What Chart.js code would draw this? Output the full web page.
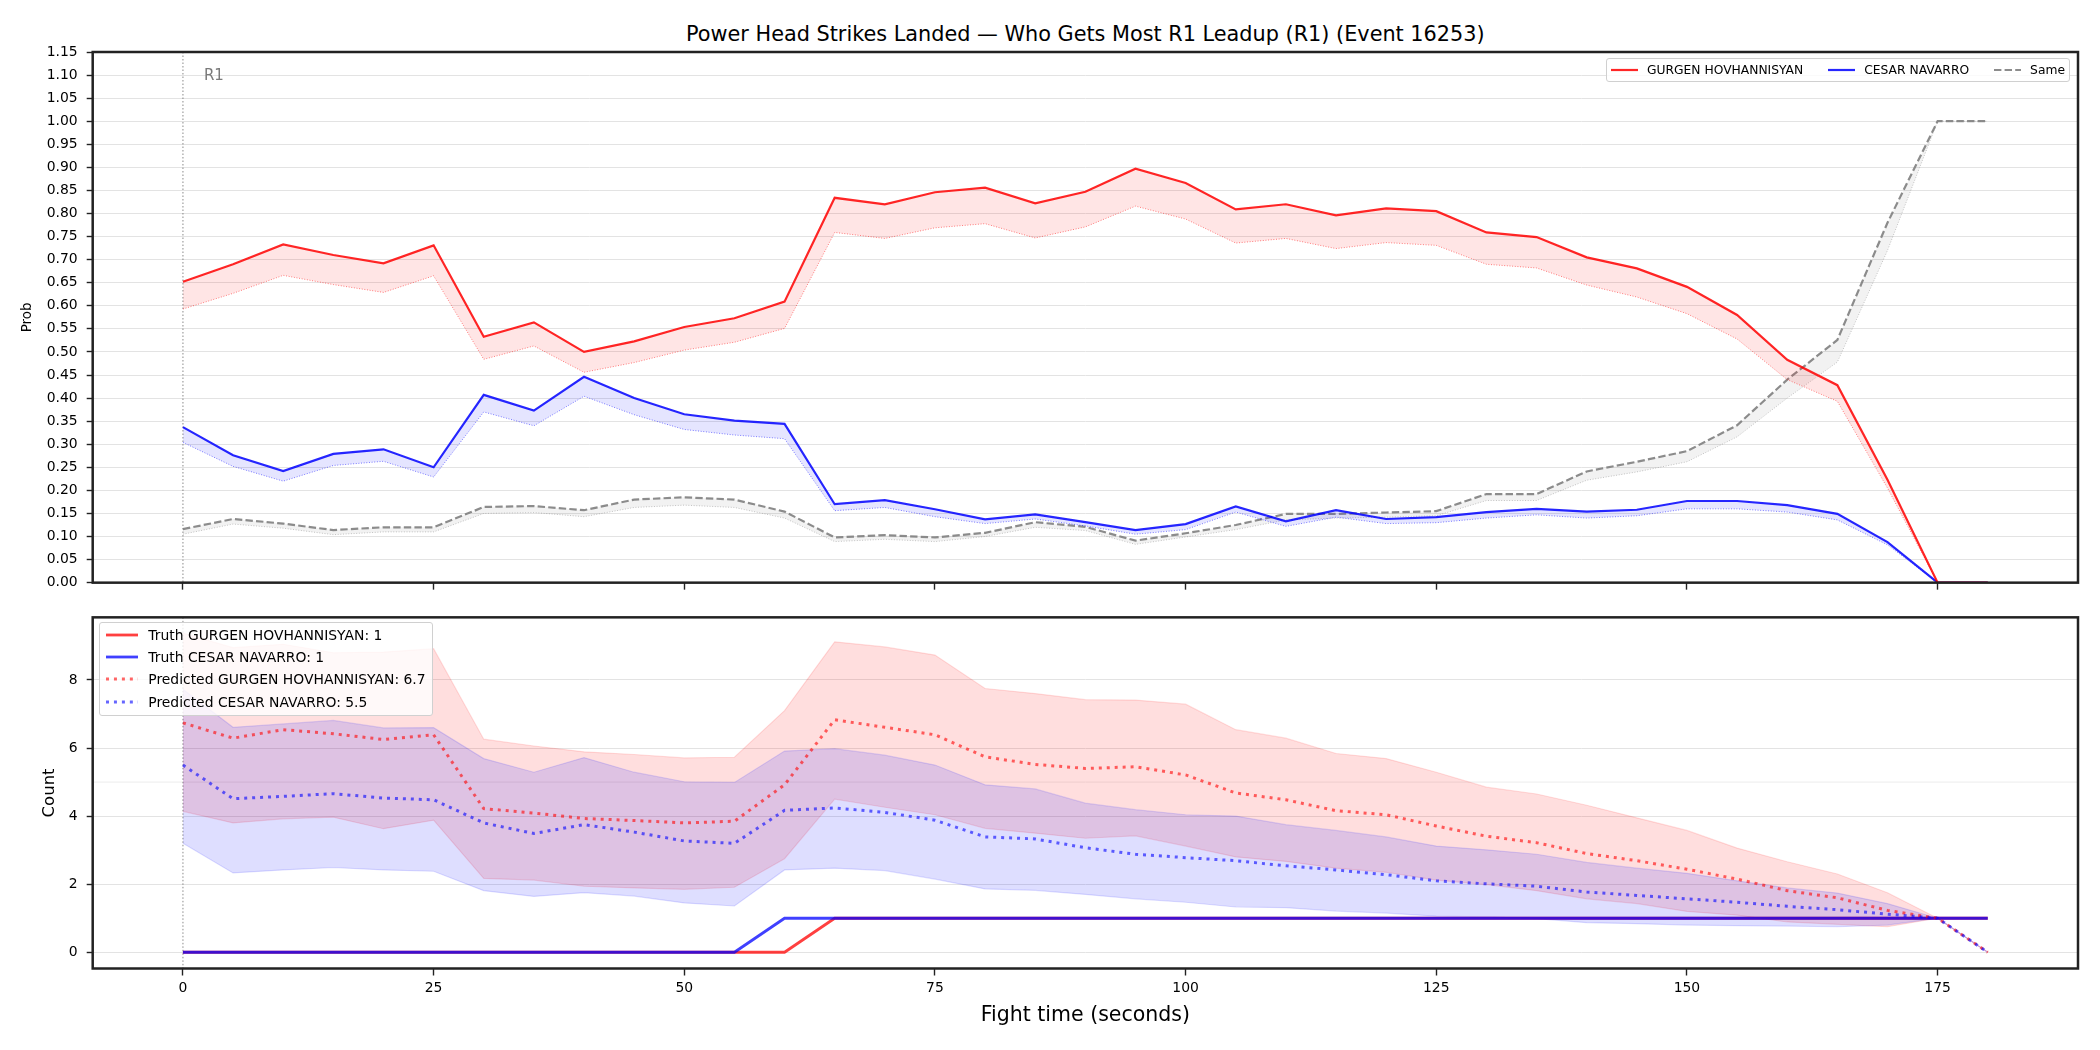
<!DOCTYPE html>
<html>
<head>
<meta charset="utf-8">
<script src="https://cdn.jsdelivr.net/npm/chart.js@4/dist/chart.umd.min.js"></script>
<style>
  html, body { margin:0; padding:0; background:#fff; }
  body { width:2100px; height:1050px; position:relative; overflow:hidden; font-family:"DejaVu Sans", sans-serif; }
  #w1 { position:absolute; left:0; top:0; width:2100px; height:600px; }
  #w2 { position:absolute; left:0; top:600px; width:2100px; height:450px; }
  #title { position:absolute; left:92.7px; width:1985.3px; top:20.5px; line-height:26px; text-align:center; font-size:20.8px; color:#000; white-space:nowrap; }
  .legend { position:absolute; background:rgba(255,255,255,0.8); border:1px solid #d0d0d0; border-radius:3px; box-sizing:border-box; color:#000; }
  #legTop { right:30px; top:57.5px; height:24px; display:flex; align-items:center; padding:0 4px 0 4px; font-size:12.3px; }
  #legTop .item { display:flex; align-items:center; margin-right:25px; white-space:nowrap; }
  #legTop .item:last-child { margin-right:0; }
  #legTop svg { margin-right:9px; }
  #legBot { left:99.3px; top:622px; padding:0.5px 6px 2px 5.7px; font-size:13.9px; }
  #legBot .row { display:flex; align-items:center; height:22.3px; white-space:nowrap; }
  #legBot svg { margin-right:10.3px; }
</style>
</head>
<body>
<div id="title"></div>
<div id="w1"><canvas id="c1" width="2100" height="600"></canvas></div>
<div id="w2"><canvas id="c2" width="2100" height="450"></canvas></div>
<div id="legTop" class="legend"></div>
<div id="legBot" class="legend"></div>
<script>
// ---------------- DATA ----------------
const chartTitle = 'Power Head Strikes Landed — Who Gets Most R1 Leadup (R1) (Event 16253)';
const times = [0,5,10,15,20,25,30,35,40,45,50,55,60,65,70,75,80,85,90,95,100,105,110,115,120,125,130,135,140,145,150,155,160,165,170,175,180];
const xTickValues = [0,25,50,75,100,125,150,175];
const probTickValues = [0,0.05,0.10,0.15,0.20,0.25,0.30,0.35,0.40,0.45,0.50,0.55,0.60,0.65,0.70,0.75,0.80,0.85,0.90,0.95,1.00,1.05,1.10,1.15];
const countTickValues = [0,2,4,6,8];
const roundStartTimes = [0];
const roundLabels = ['R1'];
const countRefLines = [5];
const fighterNames = ['GURGEN HOVHANNISYAN', 'CESAR NAVARRO'];
const sameLabel = 'Same';
const truthTotals = [1, 1];
const predictedTotals = [6.7, 5.5];

// Top panel: probabilities (main line and lower dotted bound)
const gurgenProb    = [0.652,0.690,0.733,0.710,0.692,0.731,0.533,0.564,0.500,0.523,0.554,0.573,0.609,0.834,0.820,0.846,0.856,0.822,0.847,0.897,0.866,0.809,0.820,0.796,0.811,0.805,0.759,0.749,0.705,0.681,0.641,0.580,0.483,0.428,0.223,0,0];
const gurgenProbLow = [0.593,0.627,0.666,0.646,0.629,0.665,0.484,0.513,0.456,0.477,0.504,0.521,0.551,0.759,0.746,0.769,0.778,0.747,0.771,0.816,0.788,0.736,0.746,0.724,0.737,0.731,0.690,0.682,0.645,0.619,0.583,0.528,0.440,0.393,0.205,0,0];
const cesarProb     = [0.337,0.276,0.242,0.279,0.289,0.250,0.407,0.373,0.446,0.400,0.365,0.351,0.344,0.170,0.179,0.159,0.137,0.148,0.131,0.114,0.127,0.165,0.133,0.157,0.138,0.142,0.153,0.160,0.154,0.158,0.177,0.177,0.168,0.149,0.088,0,0];
const cesarProbLow  = [0.304,0.252,0.220,0.254,0.263,0.229,0.370,0.340,0.404,0.364,0.332,0.320,0.312,0.156,0.163,0.143,0.128,0.138,0.123,0.105,0.115,0.153,0.122,0.142,0.128,0.130,0.140,0.147,0.140,0.145,0.160,0.160,0.153,0.136,0.082,0,0];
const sameProb      = [0.116,0.138,0.128,0.114,0.120,0.120,0.164,0.166,0.157,0.180,0.185,0.180,0.154,0.098,0.103,0.098,0.108,0.131,0.121,0.091,0.107,0.125,0.149,0.149,0.152,0.155,0.192,0.192,0.241,0.262,0.285,0.341,0.440,0.526,0.780,1.0,1.0];
const sameProbLow   = [0.105,0.127,0.118,0.104,0.110,0.110,0.150,0.152,0.143,0.163,0.168,0.163,0.140,0.089,0.094,0.089,0.100,0.120,0.113,0.083,0.099,0.115,0.136,0.140,0.142,0.145,0.178,0.178,0.222,0.240,0.262,0.316,0.400,0.478,0.720,1.0,1.0];

// Bottom panel: counts
const gurgenTruth = [0,0,0,0,0,0,0,0,0,0,0,0,0,1,1,1,1,1,1,1,1,1,1,1,1,1,1,1,1,1,1,1,1,1,1,1,1];
const cesarTruth  = [0,0,0,0,0,0,0,0,0,0,0,0,1,1,1,1,1,1,1,1,1,1,1,1,1,1,1,1,1,1,1,1,1,1,1,1,1];
const gurgenPred  = [6.74,6.29,6.54,6.42,6.25,6.39,4.22,4.09,3.93,3.87,3.80,3.85,4.92,6.83,6.61,6.39,5.74,5.52,5.40,5.45,5.21,4.68,4.48,4.16,4.04,3.71,3.41,3.22,2.90,2.69,2.44,2.15,1.81,1.60,1.23,1.0,0];
const gurgenHigh  = [9.38,8.95,9.05,8.80,8.82,8.92,6.26,6.06,5.89,5.81,5.71,5.73,7.10,9.12,8.97,8.73,7.75,7.60,7.42,7.41,7.29,6.54,6.29,5.84,5.69,5.29,4.85,4.65,4.32,3.95,3.58,3.06,2.66,2.30,1.75,1.0,0];
const gurgenLow   = [4.14,3.80,3.92,3.97,3.63,3.88,2.17,2.12,1.94,1.89,1.85,1.91,2.75,4.50,4.26,4.04,3.64,3.50,3.35,3.42,3.12,2.80,2.67,2.47,2.35,2.12,1.99,1.81,1.57,1.43,1.20,1.09,0.89,0.82,0.75,1.0,0];
const cesarPred   = [5.50,4.51,4.58,4.66,4.53,4.48,3.80,3.49,3.75,3.53,3.27,3.20,4.17,4.24,4.11,3.88,3.39,3.33,3.07,2.88,2.78,2.69,2.54,2.42,2.28,2.10,2.01,1.94,1.77,1.67,1.57,1.47,1.35,1.25,1.12,1.0,0];
const cesarHigh   = [7.73,6.61,6.71,6.81,6.59,6.60,5.69,5.29,5.72,5.29,5.01,4.99,5.91,5.98,5.79,5.50,4.92,4.80,4.38,4.19,4.04,4.00,3.75,3.58,3.39,3.12,3.01,2.88,2.64,2.47,2.32,2.10,1.89,1.74,1.43,1.0,0];
const cesarLow    = [3.20,2.33,2.42,2.49,2.42,2.38,1.81,1.64,1.75,1.65,1.45,1.36,2.42,2.47,2.40,2.15,1.86,1.82,1.70,1.57,1.47,1.33,1.31,1.21,1.15,1.06,1.04,0.99,0.87,0.84,0.80,0.78,0.77,0.75,0.80,1.0,0];

// ---------------- STYLE ----------------
const FONT = 'DejaVu Sans';
const C = {
  red: 'rgba(255,0,0,0.85)', redLow: 'rgba(255,0,0,0.5)', redFill: 'rgba(255,0,0,0.10)',
  blue: 'rgba(0,0,255,0.85)', blueLow: 'rgba(0,0,255,0.5)', blueFill: 'rgba(0,0,255,0.10)',
  gray: 'rgba(128,128,128,0.9)', grayLow: 'rgba(128,128,128,0.45)', grayFill: 'rgba(128,128,128,0.10)',
  truthRed: 'rgba(255,0,0,0.75)', truthBlue: 'rgba(0,0,255,0.75)',
  predRed: 'rgba(255,0,0,0.6)', predBlue: 'rgba(0,0,255,0.6)',
  bandRed: 'rgba(255,0,0,0.13)', bandBlue: 'rgba(0,0,255,0.13)',
  bandRedEdge: 'rgba(255,0,0,0.13)', bandBlueEdge: 'rgba(0,0,255,0.13)',
  grid: '#e3e3e3', spine: '#222', tick: '#000'
};
const DASH = [7.4, 3.2], DOT1 = [1, 1.65], DOT3 = [3, 4.95];

const pts = arr => times.map((t, i) => ({x: t, y: arr[i]}));

// ---------------- PLUGINS ----------------
const framePlugin = {
  id: 'frame',
  afterDatasetsDraw(chart) {
    const {ctx, chartArea: a} = chart;
    ctx.save();
    ctx.strokeStyle = C.spine; ctx.lineWidth = 2.5;
    ctx.strokeRect(a.left, a.top, a.right - a.left, a.bottom - a.top);
    ctx.restore();
  }
};
function roundPlugin(showLabels) {
  return {
    id: 'rounds' + (showLabels ? 'L' : ''),
    beforeDatasetsDraw(chart) {
      const {ctx, chartArea: a, scales: {x}} = chart;
      ctx.save();
      roundStartTimes.forEach((t, i) => {
        const px = x.getPixelForValue(t);
        ctx.strokeStyle = 'rgba(110,110,110,0.8)'; ctx.lineWidth = 1; ctx.setLineDash([1.5, 2]);
        ctx.beginPath(); ctx.moveTo(px, a.top); ctx.lineTo(px, a.bottom); ctx.stroke();
        if (showLabels) {
          ctx.setLineDash([]);
          ctx.fillStyle = '#7a7a7a'; ctx.font = '15px "' + FONT + '"';
          ctx.textAlign = 'left'; ctx.textBaseline = 'middle';
          ctx.fillText(roundLabels[i], px + 21, a.top + 24.5);
        }
      });
      ctx.restore();
    }
  };
}
const refLinePlugin = {
  id: 'refline',
  beforeDatasetsDraw(chart) {
    const {ctx, chartArea: a, scales: {y}} = chart;
    ctx.save();
    ctx.strokeStyle = '#ececec'; ctx.lineWidth = 1;
    countRefLines.forEach(v => {
      const py = y.getPixelForValue(v);
      ctx.beginPath(); ctx.moveTo(a.left, py); ctx.lineTo(a.right, py); ctx.stroke();
    });
    ctx.restore();
  }
};

function xScale(height, showLabels) {
  return {
    type: 'linear', min: -9, max: 189,
    afterBuildTicks(s) { s.ticks = xTickValues.map(v => ({value: v})); },
    afterFit(s) { s.height = height; },
    ticks: {
      autoSkip: false, maxRotation: 0, padding: 5,
      color: C.tick, font: {family: FONT, size: 13.9},
      callback: v => showLabels ? String(v) : ''
    },
    grid: {drawOnChartArea: false, drawTicks: true, tickLength: 7, tickColor: C.spine, tickWidth: 1.4},
    border: {display: false},
    title: showLabels ? {display: true, text: 'Fight time (seconds)', color: '#000',
      font: {family: FONT, size: 20.5}, padding: {top: 0, bottom: 22}} : {display: false}
  };
}
function yScale(min, max, tickVals, fmt, titleText, titleSize, titlePad) {
  return {
    type: 'linear', min, max,
    afterBuildTicks(s) { s.ticks = tickVals.map(v => ({value: v})); },
    afterFit(s) { s.width = 92.7; },
    ticks: {autoSkip: false, padding: 9, color: C.tick, font: {family: FONT, size: 13.9}, callback: fmt},
    grid: {color: C.grid, lineWidth: 1, drawTicks: true, tickLength: 6, tickColor: C.spine, tickWidth: 1.4},
    border: {display: false},
    title: {display: true, text: titleText, color: '#000', font: {family: FONT, size: titleSize},
      padding: {top: titlePad, bottom: 0}}
  };
}
const common = {
  responsive: false, animation: false, devicePixelRatio: 1,
  events: [],
  plugins: {legend: {display: false}, tooltip: {enabled: false}, title: {display: false}},
  elements: {point: {radius: 0, hoverRadius: 0}, line: {tension: 0, borderCapStyle: 'butt'}}
};

// ---------------- TOP CHART ----------------
new Chart(document.getElementById('c1'), {
  type: 'line',
  data: {
    datasets: [
      {label: fighterNames[0], data: pts(gurgenProb), borderColor: C.red, borderWidth: 2.2, fill: false},
      {label: fighterNames[0] + ' (lower)', data: pts(gurgenProbLow), borderColor: C.redLow, borderWidth: 1, borderDash: DOT1, fill: '-1', backgroundColor: C.redFill},
      {label: fighterNames[1], data: pts(cesarProb), borderColor: C.blue, borderWidth: 2.2, fill: false},
      {label: fighterNames[1] + ' (lower)', data: pts(cesarProbLow), borderColor: C.blueLow, borderWidth: 1, borderDash: DOT1, fill: '-1', backgroundColor: C.blueFill},
      {label: sameLabel, data: pts(sameProb), borderColor: C.gray, borderWidth: 2.2, borderDash: DASH, fill: false},
      {label: sameLabel + ' (lower)', data: pts(sameProbLow), borderColor: C.grayLow, borderWidth: 1, borderDash: DOT1, fill: '-1', backgroundColor: C.grayFill}
    ]
  },
  options: Object.assign({}, common, {
    layout: {padding: {left: 0, right: 22, top: 52, bottom: 0}},
    scales: {
      x: xScale(17.3, false),
      y: yScale(0, 1.15, probTickValues, v => Number(v).toFixed(2), 'Prob', 13.5, 18.9)
    }
  }),
  plugins: [framePlugin, roundPlugin(true)]
});

// ---------------- BOTTOM CHART ----------------
new Chart(document.getElementById('c2'), {
  type: 'line',
  data: {
    datasets: [
      {label: 'band high 0', data: pts(gurgenHigh), borderColor: C.bandRedEdge, borderWidth: 1.2, fill: false, order: 10},
      {label: 'band low 0', data: pts(gurgenLow), borderColor: C.bandRedEdge, borderWidth: 1.2, fill: '-1', backgroundColor: C.bandRed, order: 9},
      {label: 'band high 1', data: pts(cesarHigh), borderColor: C.bandBlueEdge, borderWidth: 1.2, fill: false, order: 8},
      {label: 'band low 1', data: pts(cesarLow), borderColor: C.bandBlueEdge, borderWidth: 1.2, fill: '-1', backgroundColor: C.bandBlue, order: 7},
      {label: 'Truth ' + fighterNames[0], data: pts(gurgenTruth), borderColor: C.truthRed, borderWidth: 2.8, fill: false, order: 4},
      {label: 'Truth ' + fighterNames[1], data: pts(cesarTruth), borderColor: C.truthBlue, borderWidth: 2.8, fill: false, order: 3},
      {label: 'Predicted ' + fighterNames[0], data: pts(gurgenPred), borderColor: C.predRed, borderWidth: 3, borderDash: DOT3, fill: false, order: 2},
      {label: 'Predicted ' + fighterNames[1], data: pts(cesarPred), borderColor: C.predBlue, borderWidth: 3, borderDash: DOT3, fill: false, order: 1}
    ]
  },
  options: Object.assign({}, common, {
    layout: {padding: {left: 0, right: 22, top: 14.5, bottom: 0}},
    scales: {
      x: xScale(81.5, true),
      y: yScale(-0.477, 9.84, countTickValues, v => String(v), 'Count', 16.5, 40.1)
    }
  }),
  plugins: [refLinePlugin, framePlugin, roundPlugin(false)]
});

// ---------------- HTML TITLE & LEGENDS ----------------
document.getElementById('title').textContent = chartTitle;
function sample(w, color, lw, dash) {
  const da = dash ? ' stroke-dasharray="' + dash.join(' ') + '"' : '';
  return '<svg width="' + w + '" height="10"><line x1="0" y1="5" x2="' + w + '" y2="5" stroke="' + color +
    '" stroke-width="' + lw + '"' + da + '/></svg>';
}
const topItems = [
  {label: fighterNames[0], color: C.red, lw: 2.2, dash: null},
  {label: fighterNames[1], color: C.blue, lw: 2.2, dash: null},
  {label: sameLabel, color: C.gray, lw: 2.2, dash: DASH}
];
document.getElementById('legTop').innerHTML = topItems.map(it =>
  '<div class="item">' + sample(27, it.color, it.lw, it.dash) + '<span>' + it.label + '</span></div>').join('');
const botItems = [
  {label: 'Truth ' + fighterNames[0] + ': ' + truthTotals[0], color: C.truthRed, lw: 2.8, dash: null},
  {label: 'Truth ' + fighterNames[1] + ': ' + truthTotals[1], color: C.truthBlue, lw: 2.8, dash: null},
  {label: 'Predicted ' + fighterNames[0] + ': ' + predictedTotals[0].toFixed(1), color: C.predRed, lw: 3, dash: DOT3},
  {label: 'Predicted ' + fighterNames[1] + ': ' + predictedTotals[1].toFixed(1), color: C.predBlue, lw: 3, dash: DOT3}
];
document.getElementById('legBot').innerHTML = botItems.map(it =>
  '<div class="row">' + sample(32, it.color, it.lw, it.dash) + '<span>' + it.label + '</span></div>').join('');
</script>
</body>
</html>
